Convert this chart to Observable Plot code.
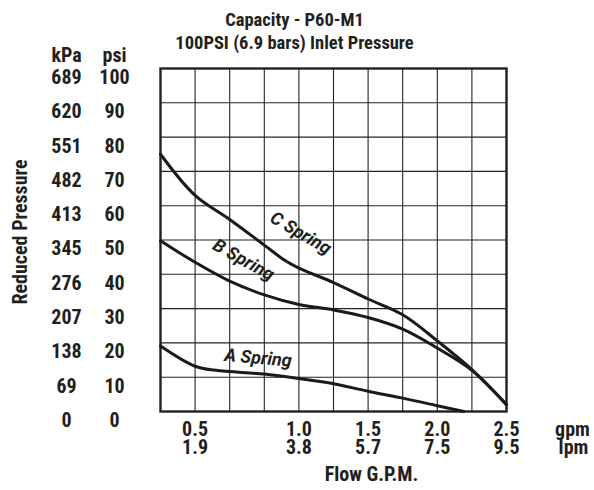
<!DOCTYPE html>
<html><head><meta charset="utf-8">
<script src="https://cdn.jsdelivr.net/npm/d3@7"></script>
<script src="https://cdn.jsdelivr.net/npm/@observablehq/plot@0.6"></script>
<style>
body{margin:0;background:#fff;}
#chart svg{font-family:Roboto,"Open Sans",sans-serif !important;font-stretch:75%;font-weight:bold;}
</style></head><body><div id="chart"></div>
<script>
// Grid columns (x in grid units) and psi rows
const gridCols = [0,1,2,3,4,5,6,7,8,9,10];
const psiTicks = [0,10,20,30,40,50,60,70,80,90,100];
const kpaLabels = ["0","69","138","207","276","345","413","482","551","620","689"];
// Flow ticks sit on grid columns
const flowTickPos = [1,4,6,8,10];
const gpmLabels = ["0.5","1.0","1.5","2.0","2.5"];
const lpmLabels = ["1.9","3.8","5.7","7.5","9.5"];

// Curves: x in grid units, y in psi
const cSpringX = [0,1,2,3,3.6,4,5,6,7,8,9,10];
const cSpringPsi = [75,63,56,48.5,44,41.8,37.6,32.8,28.2,20.6,12.2,2];
const bSpringX = [0,1,2,3,4,5,6,7,8,9,10];
const bSpringPsi = [49.8,43.5,38,34,31.2,29.6,27.4,24,18.5,12,2];
const aSpringX = [0,1,1.6,3,4,5,6,7,8,8.77];
const aSpringPsi = [19.1,13.2,12,10.9,9.6,8.1,5.9,3.9,1.7,0];

const springNames = ["C Spring","B Spring","A Spring"];
const springLabelX = [4.05,2.4,2.82];
const springLabelPsi = [52,44.2,15.6];
const springLabelAngle = [30,29,5];

const series = [
  ...cSpringX.map((x,i)=>({s:"C",x,y:cSpringPsi[i]})),
  ...bSpringX.map((x,i)=>({s:"B",x,y:bSpringPsi[i]})),
  ...aSpringX.map((x,i)=>({s:"A",x,y:aSpringPsi[i]}))
];
const labels = springNames.map((t,i)=>({t,x:springLabelX[i],y:springLabelPsi[i],r:springLabelAngle[i]}));
const ink = "#231f20";
const fs = 20;
const mid = {lineAnchor: "middle", textAnchor: "middle", fill: ink, fontWeight: "bold"};

const chart = Plot.plot({
  width: 594, height: 490,
  marginLeft: 160, marginRight: 88, marginTop: 68, marginBottom: 79,
  x: {domain: [0,10]},
  y: {domain: [0,100]},
  style: {color: ink, background: "#fff", overflow: "visible", fontFamily: "Roboto, sans-serif"},
  marks: [
    Plot.gridX(gridCols, {stroke: "#222", strokeOpacity: 1, strokeWidth: 1.1}),
    Plot.gridY(psiTicks, {stroke: "#222", strokeOpacity: 1, strokeWidth: 1.1}),
    Plot.frame({stroke: "#222", strokeWidth: 2.4}),
    Plot.axisY(psiTicks, {anchor: "left", tickSize: 0, tickPadding: 46, textAnchor: "middle", dy: 9, fontSize: fs, fill: ink, fontWeight: "bold", label: null}),
    Plot.axisY(psiTicks, {anchor: "left", tickSize: 0, tickPadding: 94, textAnchor: "middle", dy: 9, fontSize: fs, fill: ink, fontWeight: "bold", label: null,
      tickFormat: d => kpaLabels[psiTicks.indexOf(d)]}),
    Plot.axisX(flowTickPos, {anchor: "bottom", tickSize: 0, tickPadding: 10, fontSize: fs, fill: ink, fontWeight: "bold", label: null,
      tickFormat: d => gpmLabels[flowTickPos.indexOf(d)]}),
    Plot.axisX(flowTickPos, {anchor: "bottom", tickSize: 0, tickPadding: 28, fontSize: fs, fill: ink, fontWeight: "bold", label: null,
      tickFormat: d => lpmLabels[flowTickPos.indexOf(d)]}),
    Plot.line(series, {x: "x", y: "y", z: "s", curve: "catmull-rom", stroke: "#1a1a1a", strokeWidth: 3}),
    Plot.text(labels, {x: "x", y: "y", text: "t", rotate: "r", fontSize: 18, fontStyle: "italic", ...mid}),
    Plot.text(["gpm"], {frameAnchor: "bottom-right", dx: 66, dy: 18, fontSize: fs, ...mid}),
    Plot.text(["lpm"], {frameAnchor: "bottom-right", dx: 67, dy: 36, fontSize: fs, ...mid}),
    Plot.text(["Flow G.P.M."], {frameAnchor: "bottom", dx: 38, dy: 63, fontSize: fs, ...mid}),
    Plot.text(["Reduced Pressure"], {frameAnchor: "left", dx: -140, dy: -8, rotate: -90, fontSize: fs, ...mid}),
    Plot.text(["Capacity - P60-M1"], {frameAnchor: "top", dx: -39, dy: -48, fontSize: 18.5, ...mid}),
    Plot.text(["100PSI (6.9 bars) Inlet Pressure"], {frameAnchor: "top", dx: -39, dy: -25, fontSize: 18.5, ...mid}),
    Plot.text(["kPa"], {frameAnchor: "top-left", dx: -94, dy: -13, fontSize: fs, ...mid}),
    Plot.text(["psi"], {frameAnchor: "top-left", dx: -46, dy: -13, fontSize: fs, ...mid})
  ]
});
// spring labels use a normal-width oblique face, as in the reference
d3.select(chart).selectAll("text").filter(function(){ return /Spring/.test(this.textContent); }).style("font-stretch", "100%");
document.getElementById("chart").append(chart);
</script></body></html>
